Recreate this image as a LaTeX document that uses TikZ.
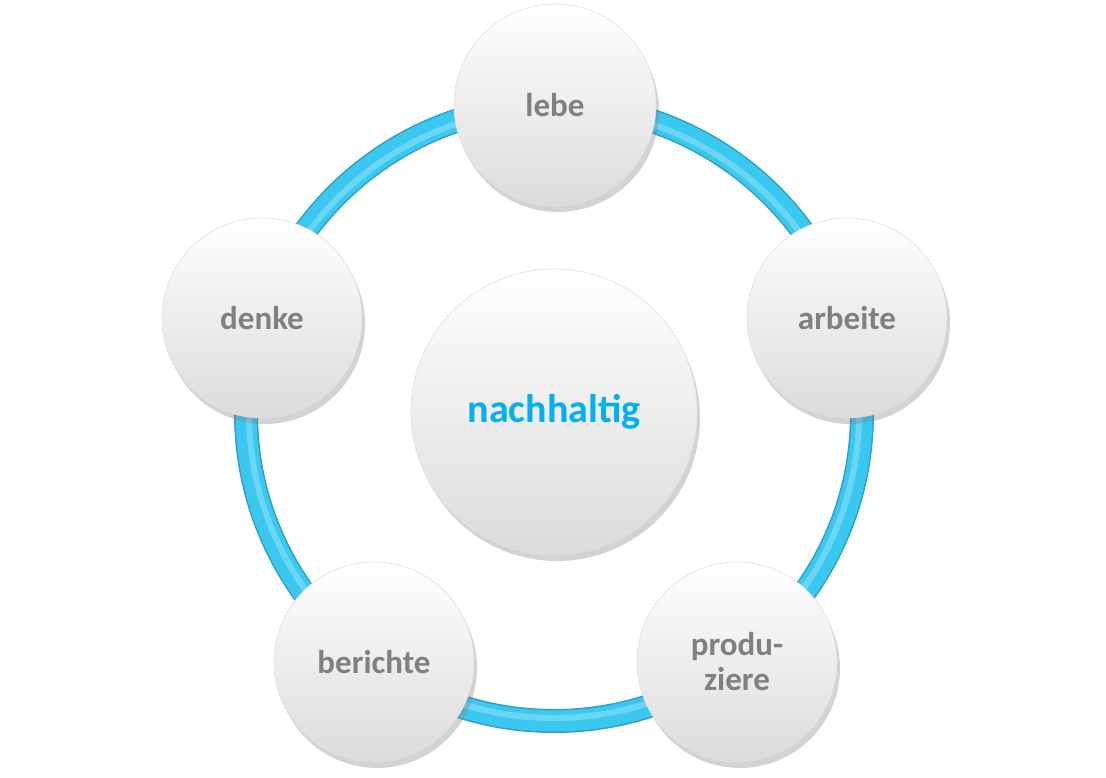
\documentclass[tikz,border=0pt]{standalone}
\usepackage{fontspec}
\setmainfont{Carlito}
\usetikzlibrary{shadows}
\definecolor{ringc}{RGB}{58,200,240}
\definecolor{txtc}{RGB}{128,128,128}
\definecolor{midc}{RGB}{0,176,240}
\begin{document}
\begin{tikzpicture}[x=1pt,y=-1pt,
  ball/.style={circle,minimum size=#1,inner sep=0pt,draw=gray!25,line width=0.6pt,
    top color=white,bottom color=gray!28,
    drop shadow={shadow xshift=3pt,shadow yshift=-6pt,opacity=0.35,fill=gray},
    font=\fontsize{33}{33}\selectfont\bfseries,text=txtc,align=center}]
\useasboundingbox (0,0) rectangle (1106,778);
\coordinate (c) at (554,413);
\draw[line width=24pt,ringc!80!black] (c) circle[radius=308];
\draw[line width=21pt,ringc] (c) circle[radius=308];
\draw[line width=6pt,ringc!75!white] (c) circle[radius=305];
\node[ball=202pt] (lebe) at (555,105) {lebe};
\node[ball=200pt] (arbeite) at (847,318) {arbeite};
\node[ball=200pt] (prod) at (737,662) {produ-\\[2pt]ziere};
\node[ball=200pt] (ber) at (374,662) {berichte};
\node[ball=200pt] (denke) at (262,318) {denke};
\node[ball=286pt,text=midc,font=\fontsize{40}{40}\selectfont\bfseries] (mid) at (554,412) {nachhaltig};
\end{tikzpicture}
\end{document}
